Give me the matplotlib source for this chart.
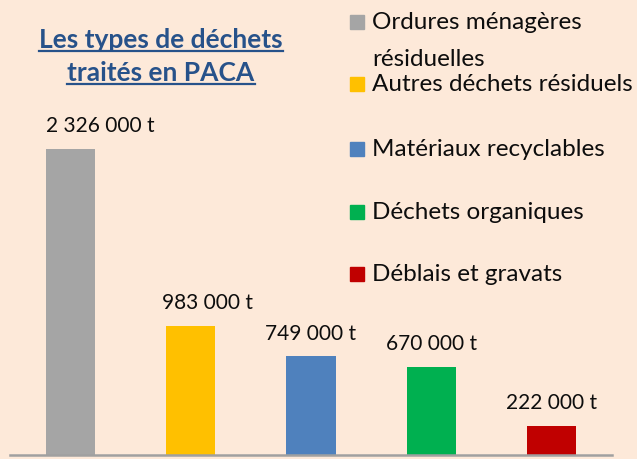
import matplotlib.pyplot as plt
from matplotlib.lines import Line2D
from matplotlib.patches import Rectangle

categories = [
    "Ordures ménagères\nrésiduelles",
    "Autres déchets résiduels",
    "Matériaux recyclables",
    "Déchets organiques",
    "Déblais et gravats",
]
tonnages = [2326000, 983000, 749000, 670000, 222000]
value_labels = ["2 326 000 t", "983 000 t", "749 000 t", "670 000 t", "222 000 t"]
colors = ["#A5A5A5", "#FFC000", "#4F81BD", "#00B050", "#C00000"]

# label shift in category units (labels in the source are not all centred)
label_shift = [0.25, 0.14, 0.0, 0.0, 0.0]

BG = "#FDE9D9"
TITLE_COLOR = "#27528A"

plt.rcParams["font.family"] = ["Lato", "DejaVu Sans"]

fig = plt.figure(figsize=(6.37, 4.59), dpi=100)
fig.patch.set_facecolor(BG)

ax = fig.add_axes([10 / 637, 4 / 459, 602 / 637, 455 / 459])
ax.set_facecolor(BG)
x = range(len(tonnages))
ax.bar(x, tonnages, width=0.41, color=colors)
ax.set_xlim(-0.5, 4.5)
ax.set_ylim(0, 3458500)

for i, (v, lab) in enumerate(zip(tonnages, value_labels)):
    ax.annotate(lab, (i + label_shift[i], v), xytext=(0, 9),
                textcoords="offset points", ha="center", va="bottom",
                fontsize=15, color="#0D0D0D")

for side in ["top", "right", "left"]:
    ax.spines[side].set_visible(False)
ax.spines["bottom"].set_color("#A0A0A0")
ax.spines["bottom"].set_linewidth(1.8)
ax.set_xticks([])
ax.set_yticks([])

# title with underline
title_lines = ["Les types de déchets", "traités en PACA"]
title_y = [40 / 459, 73 / 459]
title_texts = []
for line, ty in zip(title_lines, title_y):
    t = fig.text(161 / 637, 1 - ty, line, ha="center", va="center",
                 fontsize=19, fontweight="bold", color=TITLE_COLOR)
    title_texts.append(t)

fig.canvas.draw()
renderer = fig.canvas.get_renderer()
for t in title_texts:
    bb = t.get_window_extent(renderer).transformed(fig.transFigure.inverted())
    fig.add_artist(Line2D([bb.x0, bb.x1], [bb.y0 + 0.002, bb.y0 + 0.002],
                          transform=fig.transFigure, color=TITLE_COLOR, lw=1.6))

# legend drawn by hand to follow the source spacing
legend_y = [22, 84, 149, 212, 274]
for cat, col, ly in zip(categories, colors, legend_y):
    fig.add_artist(Rectangle((350 / 637, 1 - (ly + 7) / 459), 14 / 637, 14 / 459,
                             transform=fig.transFigure, color=col))
    fig.text(372 / 637, 1 - (ly - 10) / 459, cat, ha="left", va="top",
             fontsize=17.5, color="#0D0D0D", linespacing=1.95)

fig.savefig("out.png", dpi=100, facecolor=BG)
